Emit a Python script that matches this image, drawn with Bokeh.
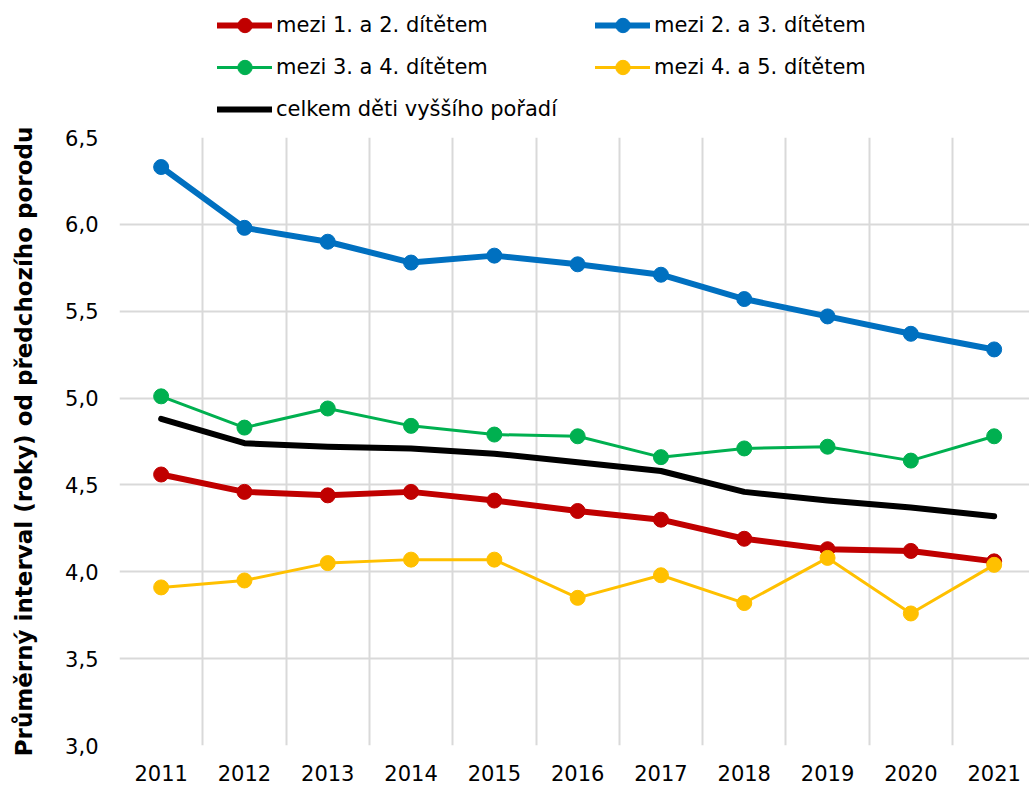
from bokeh.plotting import figure
from bokeh.layouts import column
from bokeh.models import FixedTicker, Legend, LegendItem, Range1d
from bokeh.embed import file_html
from bokeh.resources import INLINE

years = [2011, 2012, 2013, 2014, 2015, 2016, 2017, 2018, 2019, 2020, 2021]
s12 = [4.56, 4.46, 4.44, 4.46, 4.41, 4.35, 4.30, 4.19, 4.13, 4.12, 4.06]
s23 = [6.33, 5.98, 5.90, 5.78, 5.82, 5.77, 5.71, 5.57, 5.47, 5.37, 5.28]
s34 = [5.01, 4.83, 4.94, 4.84, 4.79, 4.78, 4.66, 4.71, 4.72, 4.64, 4.78]
s45 = [3.91, 3.95, 4.05, 4.07, 4.07, 3.85, 3.98, 3.82, 4.08, 3.76, 4.04]
total = [4.88, 4.74, 4.72, 4.71, 4.68, 4.63, 4.58, 4.46, 4.41, 4.37, 4.32]
y_ticks = [3.0, 3.5, 4.0, 4.5, 5.0, 5.5, 6.0, 6.5]
y_tick_labels = ["3,0", "3,5", "4,0", "4,5", "5,0", "5,5", "6,0", "6,5"]
labels = ["mezi 1. a 2. dítětem", "mezi 2. a 3. dítětem", "mezi 3. a 4. dítětem",
          "mezi 4. a 5. dítětem", "celkem děti vyššího pořadí"]
y_title = "Průměrný interval (roky) od předchozího porodu"

FONT = "DejaVu Sans"
W = 1029
LEG_H = 125
H = 785 - LEG_H
BL, BR, BT, BB = 119, 0, 12, 40
frame_w = W - BL - BR
px_per_year = 83.3

p = figure(width=W, height=H, output_backend="svg", toolbar_location=None,
           x_range=Range1d(2010.5, 2010.5 + frame_w / px_per_year),
           y_range=Range1d(3.0, 6.5),
           min_border_left=BL, min_border_right=BR, min_border_top=BT, min_border_bottom=BB)
p.outline_line_color = None
p.background_fill_color = "white"
p.border_fill_color = "white"

# grids
p.xgrid.ticker = FixedTicker(ticks=[y - 0.5 for y in years] + [years[-1] + 0.5])
p.ygrid.ticker = FixedTicker(ticks=y_ticks)
for g in (p.xgrid, p.ygrid):
    g.grid_line_color = "#D9D9D9"
    g.grid_line_width = 2

# axes
p.xaxis.ticker = FixedTicker(ticks=years)
p.yaxis.ticker = FixedTicker(ticks=y_ticks)
p.yaxis.major_label_overrides = {t: l for t, l in zip(y_ticks, y_tick_labels)}
for ax in (p.xaxis, p.yaxis):
    ax.axis_line_color = None
    ax.major_tick_line_color = None
    ax.minor_tick_line_color = None
    ax.major_label_text_font = FONT
    ax.major_label_text_font_size = "21px"
    ax.major_label_text_color = "#000000"
p.xaxis.major_label_standoff = 13
p.yaxis.major_label_standoff = 15
p.yaxis.axis_label = y_title
p.yaxis.axis_label_text_font = FONT
p.yaxis.axis_label_text_font_size = "23px"
p.yaxis.axis_label_text_font_style = "bold"
p.yaxis.axis_label_text_color = "#000000"
p.yaxis.axis_label_standoff = 25

series = [
    (s12, "#C00000", 6, True),
    (s23, "#0070C0", 6, True),
    (s34, "#00B050", 3, True),
    (s45, "#FFC000", 3, True),
    (total, "#000000", 6, False),
]
for vals, col, lw, mk in series:
    p.line(years, vals, line_color=col, line_width=lw, line_cap="round", line_join="round")
    if mk:
        p.scatter(years, vals, size=15, fill_color=col, line_color=col)

# legend strip above the plot; its ranges keep the styled renderers out of view
lf = figure(width=W, height=LEG_H, output_backend="svg", toolbar_location=None,
            x_axis_type=None, y_axis_type=None,
            x_range=Range1d(0, 1), y_range=Range1d(0, 1), min_border=0)
lf.outline_line_color = None
lf.grid.visible = False
items = []
for (vals, col, lw, mk), lab in zip(series, labels):
    rs = [lf.line(years, vals, line_color=col, line_width=lw, line_cap="round")]
    if mk:
        rs.append(lf.scatter(years, vals, size=15, fill_color=col, line_color=col))
    items.append(LegendItem(label=lab, renderers=rs))

leg_style = dict(orientation="vertical", padding=0, margin=0, spacing=6,
                 glyph_width=55, glyph_height=36, label_height=20, label_standoff=4,
                 label_text_font=FONT, label_text_font_size="21px", label_text_color="#000000",
                 border_line_color=None, background_fill_alpha=0)
leg1 = Legend(items=[items[0], items[2], items[4]], location=(98, -2), **leg_style)
leg2 = Legend(items=[items[1], items[3]], location=(476, 40), **leg_style)
lf.add_layout(leg1, "center")
lf.add_layout(leg2, "center")

layout = column(lf, p, spacing=0)
open("out.html", "w").write(file_html(layout, INLINE))
